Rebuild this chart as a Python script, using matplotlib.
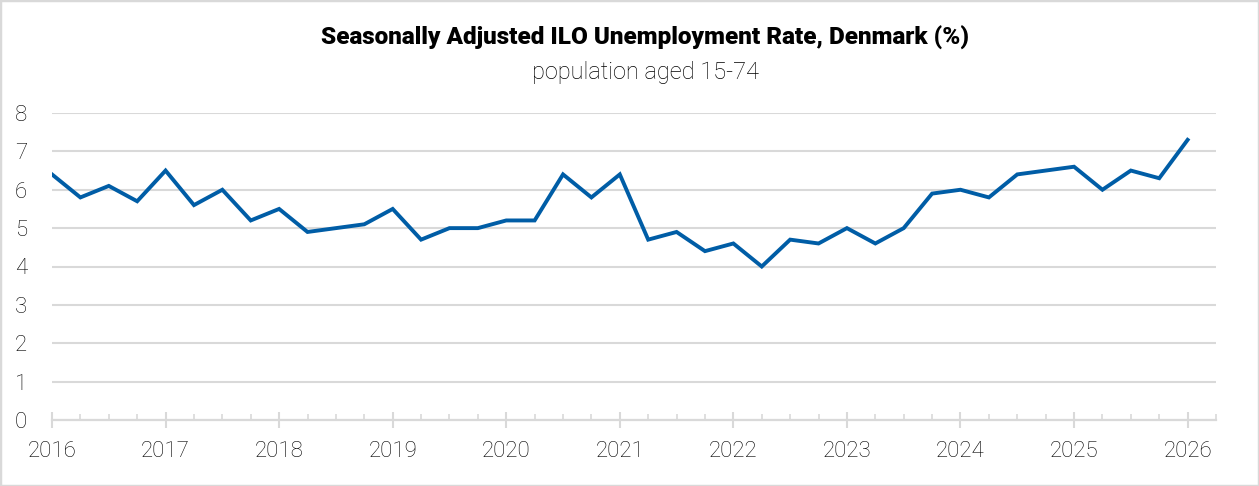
import numpy as np
import matplotlib.pyplot as plt
from matplotlib.ticker import MultipleLocator
from matplotlib.patches import Rectangle

# quarterly unemployment rate, 2016Q1 .. 2026Q1
rate = [6.4, 5.8, 6.1, 5.7,
        6.5, 5.6, 6.0, 5.2,
        5.5, 4.9, 5.0, 5.1,
        5.5, 4.7, 5.0, 5.0,
        5.2, 5.2, 6.4, 5.8,
        6.4, 4.7, 4.9, 4.4,
        4.6, 4.0, 4.7, 4.6,
        5.0, 4.6, 5.0, 5.9,
        6.0, 5.8, 6.4, 6.5,
        6.6, 6.0, 6.5, 6.3,
        7.3]
start_year = 2016
years = list(range(2016, 2027))
yticks = list(range(0, 9))

title = "Seasonally Adjusted ILO Unemployment Rate, Denmark (%)"
subtitle = "population aged 15-74"

plt.rcParams['font.family'] = ['Roboto', 'DejaVu Sans']

x = start_year + np.arange(len(rate)) * 0.25

fig = plt.figure(figsize=(12.59, 4.86), dpi=100)
ax = fig.add_axes([52/1259, 1-420/486, (1216-52)/1259, (420-113)/486])

ax.plot(x, rate, color='#005da6', lw=2.8, solid_joinstyle='miter', zorder=3)

ax.set_xlim(2016, 2026.25)
ax.set_ylim(0, 8)
ax.set_yticks(yticks)
ax.set_xticks(years)
ax.xaxis.set_minor_locator(MultipleLocator(0.25))
ax.grid(axis='y', color='#d9d9d9', lw=1.5)
ax.set_axisbelow(True)

for s in ['top', 'right', 'left']:
    ax.spines[s].set_visible(False)
ax.spines['bottom'].set_color('#d9d9d9')
ax.spines['bottom'].set_linewidth(1.6)
ax.spines['bottom'].set_zorder(2)

ax.tick_params(axis='y', length=0, pad=18, labelsize=16, colors='#000000')
ax.tick_params(axis='x', which='major', direction='inout', length=12, width=1.5,
               color='#d9d9d9', pad=9, labelsize=16, labelcolor='#000000')
ax.tick_params(axis='x', which='minor', direction='in', length=4.5, width=1.2,
               color='#d9d9d9')
for lab in ax.get_xticklabels() + ax.get_yticklabels():
    lab.set_fontweight('light')

fig.text(645/1259, 1-38/486, title, ha='center', va='center',
         fontsize=17.5, fontweight='heavy', color='#000000')
fig.text(645/1259, 1-72/486, subtitle, ha='center', va='center',
         fontsize=17, fontweight='light', color='#000000')

fig.patches.append(Rectangle((0, 0), 1, 1, transform=fig.transFigure,
                             fill=False, edgecolor='#d9d9d9', lw=2.5))

fig.savefig('out.png', dpi=100)
